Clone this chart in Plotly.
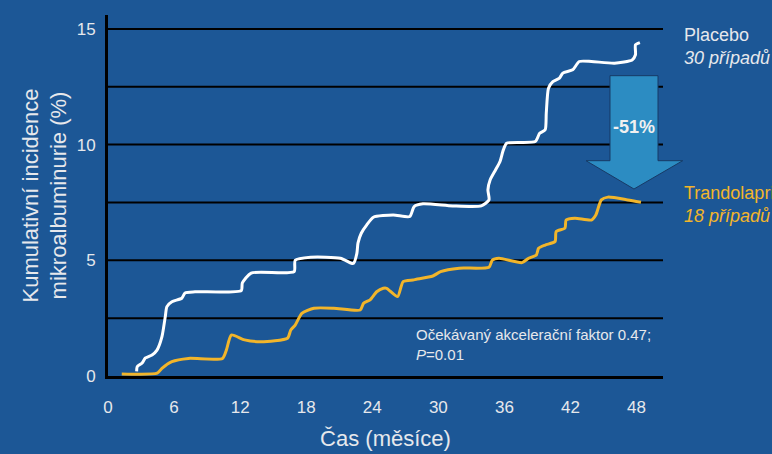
import plotly.graph_objects as go

# ---- data (months, cumulative incidence %) ----
placebo_x = [2.6, 2.65, 3.1, 3.4, 4.0, 4.45, 4.9, 5.2, 5.35, 5.8, 6.7, 7.0, 7.9, 12.1, 12.2, 13.0,
             16.9, 17.0, 18.4, 21.1, 22.1, 22.3, 22.6, 22.7, 23.0, 23.5, 24.1, 25.9, 27.4, 27.8,
             28.6, 31.3, 33.9, 34.6, 34.5, 34.7, 35.2, 35.6, 35.9, 36.2, 38.8, 39.2, 39.7, 39.8,
             40.0, 40.4, 41.0, 41.3, 42.2, 42.8, 43.9, 46.0, 47.6, 47.9, 47.9, 48.3]
placebo_y = [0.2, 0.40, 0.56, 0.78, 0.91, 1.12, 1.70, 2.56, 3.0, 3.21, 3.36, 3.59, 3.64, 3.69, 4.02, 4.45,
             4.51, 5.0, 5.13, 5.09, 4.87, 4.87, 5.30, 5.74, 6.17, 6.53, 6.86, 6.96, 6.89, 7.32,
             7.44, 7.35, 7.35, 7.61, 8.04, 8.47, 8.91, 9.27, 9.77, 10.06, 10.13, 10.49, 10.64, 11.36,
             12.44, 12.72, 12.87, 13.09, 13.23, 13.59, 13.59, 13.52, 13.66, 13.88, 14.31, 14.41]

trand_x = [1.25, 4.47, 4.9, 5.8, 7.3, 10.4, 10.75, 11.2, 12.4, 13.9, 16.3, 16.6, 17.0, 17.6, 18.7,
           20.5, 22.9, 23.2, 23.8, 24.4, 25.0, 25.3, 26.3, 26.8, 27.7, 28.0, 29.5, 30.2, 31.9, 34.6,
           34.9, 35.5, 37.6, 38.2, 38.9, 39.1, 39.7, 40.6, 40.7, 41.5, 41.6, 42.4, 43.9, 44.3, 44.8,
           45.4, 47.2, 48.4]
trand_y = [0.09, 0.12, 0.33, 0.62, 0.76, 0.76, 1.12, 1.77, 1.56, 1.48, 1.63, 1.99, 2.2, 2.71, 2.93,
           2.93, 2.85, 3.14, 3.29, 3.64, 3.79, 3.79, 3.43, 4.08, 4.15, 4.18, 4.32, 4.51, 4.66, 4.70,
           5.01, 5.09, 4.90, 5.09, 5.23, 5.52, 5.66, 5.81, 6.24, 6.39, 6.74, 6.82, 6.74, 6.96, 7.61,
           7.73, 7.61, 7.51]

x_ticks = [0, 6, 12, 18, 24, 30, 36, 42, 48]
y_ticks = [0, 5, 10, 15]
grid_levels = [2.5, 5, 7.5, 10, 12.5, 15]

BG = "#1c5796"
TXT = "#e6e8ec"
ORANGE = "#f2b52a"
FONT = "Liberation Sans, Arial, sans-serif"

fig = go.Figure()

fig.add_trace(go.Scatter(x=placebo_x, y=placebo_y, mode="lines",
                         line=dict(color="#ffffff", width=3, shape="spline", smoothing=0.6),
                         name="Placebo", showlegend=False))
fig.add_trace(go.Scatter(x=trand_x, y=trand_y, mode="lines",
                         line=dict(color=ORANGE, width=3, shape="spline", smoothing=0.6),
                         name="Trandolapril", showlegend=False))

# horizontal grid lines (black)
for g in grid_levels:
    fig.add_shape(type="line", xref="paper", x0=0, x1=1, yref="y", y0=g, y1=g,
                  line=dict(color="black", width=2), layer="below")

# arrow (-51%)
arrow_path = ("M 0.9045 0.8319 L 0.991 0.8319 L 0.991 0.5964 L 1.0355 0.5964 "
              "L 0.9477 0.518 L 0.8613 0.5964 L 0.9045 0.5964 Z")
fig.add_shape(type="path", xref="paper", yref="paper", path=arrow_path,
              fillcolor="#2c8cc2", line=dict(color="#173a66", width=1))
fig.add_annotation(xref="paper", yref="paper", x=0.9477, y=0.689, xanchor="center", yanchor="middle",
                   text="<b>-51%</b>", showarrow=False,
                   font=dict(family=FONT, size=18, color="#f0f0f0"))

# labels at right
fig.add_annotation(xref="paper", yref="paper", x=1.034, y=0.913, xanchor="left", yanchor="middle",
                   text="Placebo<br><i>30 případů</i>", align="left", showarrow=False,
                   font=dict(family=FONT, size=18, color=TXT))
fig.add_annotation(xref="paper", yref="paper", x=1.034, y=0.475, xanchor="left", yanchor="middle",
                   text="Trandolapril<br><i>18 případů</i>", align="left", showarrow=False,
                   font=dict(family=FONT, size=18, color=ORANGE))

# statistics text
fig.add_annotation(xref="paper", yref="paper", x=0.551, y=0.087, xanchor="left", yanchor="middle",
                   text="Očekávaný akcelerační faktor 0.47;<br><i>P</i>=0.01", align="left",
                   showarrow=False, font=dict(family=FONT, size=15, color=TXT))

fig.update_layout(
    width=772, height=454,
    margin=dict(l=108, r=109, t=15, b=78),
    paper_bgcolor=BG, plot_bgcolor=BG,
    font=dict(family=FONT, color=TXT),
    xaxis=dict(range=[0, 50.4], tickvals=x_ticks, ticktext=[str(v) for v in x_ticks],
               showgrid=False, zeroline=False, showline=True, linecolor="black", linewidth=3,
               ticks="", ticklabelstandoff=14, tickfont=dict(size=17, color=TXT), automargin=False,
               title=dict(text="Čas (měsíce)", font=dict(size=22, color=TXT), standoff=15)),
    yaxis=dict(range=[0, 15.6], tickvals=y_ticks, ticktext=[str(v) for v in y_ticks],
               showgrid=False, zeroline=False, showline=True, linecolor="black", linewidth=3,
               ticks="", ticklabelstandoff=6, tickfont=dict(size=17, color=TXT), automargin=False,
               title=dict(text="Kumulativní incidence<br>mikroalbuminurie (%)",
                          font=dict(size=22, color=TXT), standoff=4)),
)

fig.write_html("out.html", config={"displayModeBar": False},
               post_script="document.body.style.margin='0';")
